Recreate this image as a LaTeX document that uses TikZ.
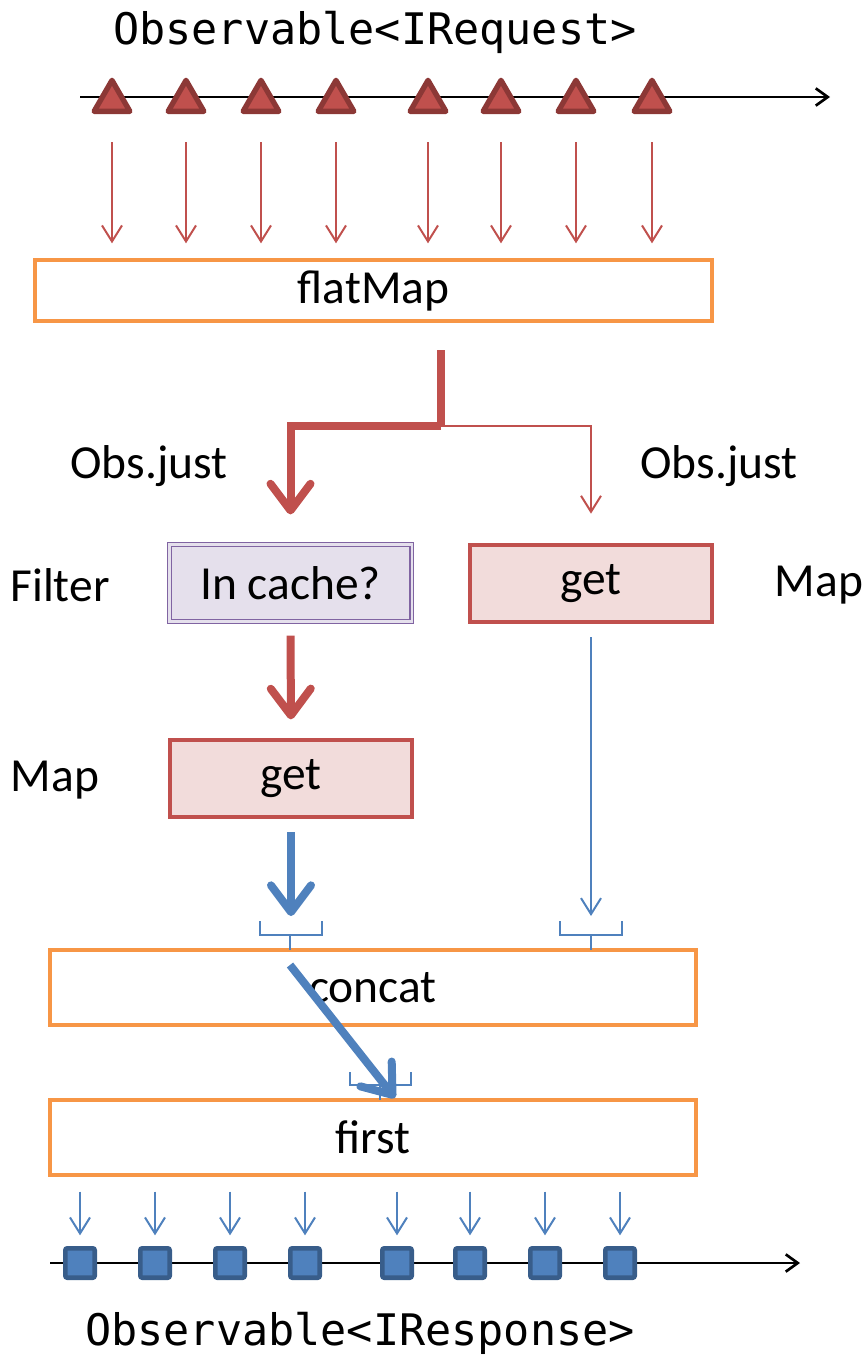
\documentclass[tikz,border=0pt]{standalone}
\usepackage{fontspec}
\setmainfont{Carlito}
\setmonofont{DejaVu Sans Mono}
\usetikzlibrary{arrows.meta,shapes.geometric}
\definecolor{accred}{HTML}{C0504D}
\definecolor{darkred}{HTML}{8C3836}
\definecolor{accorange}{HTML}{F79646}
\definecolor{accblue}{HTML}{4F81BD}
\definecolor{darkblue}{HTML}{385D8A}
\definecolor{accpurple}{HTML}{8064A2}
\definecolor{lavender}{HTML}{E5E0EC}
\definecolor{pinkfill}{HTML}{F2DCDB}

\begin{document}
\begin{tikzpicture}[
        x=0.75pt, y=-0.75pt,
        txt/.style={font=\fontsize{35.6}{40}\selectfont, inner sep=0pt},
        streamtitle/.style={font=\ttfamily\fontsize{32.6}{38}\selectfont, inner sep=0pt},
        timeline/.style={line width=2pt, -{Straight Barb[length=9pt, width=13pt]}},
        request/.style={regular polygon, regular polygon sides=3, fill=accred, draw=darkred, line width=4pt, line join=round, minimum size=31pt, inner sep=0pt},
        response/.style={rectangle, fill=accblue, draw=darkblue, line width=3.5pt, rounded corners=1.5pt, minimum size=22pt, inner sep=0pt},
        opbox/.style={txt, draw=accorange, line width=3pt, minimum width=484.5pt, minimum height=56.25pt},
        mapbox/.style={txt, draw=accred, fill=pinkfill, line width=3pt, minimum width=181.5pt, minimum height=57.75pt},
        filterbox/.style={txt, draw=accpurple, fill=lavender, line width=0.8pt, double=lavender, double distance=2pt, minimum width=182pt, minimum height=58pt},
        redthin/.style={draw=accred, line width=1.5pt, -{Straight Barb[length=12pt, width=15pt]}},
        redthick/.style={draw=accred, line width=6pt, -{Straight Barb[round, length=20pt, width=30pt]}},
        bluethin/.style={draw=accblue, line width=1.5pt, -{Straight Barb[length=12pt, width=15pt]}},
        bluethick/.style={draw=accblue, line width=6pt, -{Straight Barb[round, length=20pt, width=30pt]}},
        slot/.style={draw=accblue, line width=1.5pt}
    ]
        \useasboundingbox (0,0) rectangle (867,1356);

        % Request stream
        \node[streamtitle] (reqtitle) at (375,32) {Observable<IRequest>};
        \coordinate (reqstart) at (80,97);
        \coordinate (reqend) at (830,97);
        \draw[timeline] (reqstart) -- (reqend);
        \foreach \i/\x in {1/112, 2/186, 3/261, 4/336, 5/428, 6/501, 7/576, 8/652}
            \node[request] (t\i) at (\x,101) {};

        % flatMap
        \node[opbox, minimum width=507.75pt, minimum height=45.75pt] (flatmap) at (373.5,290.5) {flatMap};
        \foreach \i in {1,...,8}
            \draw[redthin, shorten <=21pt, shorten >=11pt] (t\i.south) -- (t\i.south |- flatmap.north);

        % Branches
        \node[txt] (obsleft) at (149,466) {Obs.just};
        \node[txt] (obsright) at (719,466) {Obs.just};
        \node[txt] (filterlbl) at (60,585) {Filter};
        \node[filterbox] (incache) at (290.5,583) {In cache?};
        \node[mapbox] (getright) at (591,583.5) {get};
        \node[txt] (mapright) at (819,585) {Map};
        \node[txt] (mapleft) at (55,780) {Map};
        \node[mapbox] (getleft) at (291,778.5) {get};

        \coordinate (fmout) at (441,350);
        \coordinate (split) at (441,426);
        \draw[redthick, -, line cap=butt] (fmout) -- (split);
        \draw[redthick, line join=miter] (split) -| ([yshift=22pt]incache.north);
        \draw[redthin, line join=miter] (split) -| ([yshift=22pt]getright.north);
        \draw[redthick, shorten <=10pt, shorten >=14pt] (incache.south) -- (getleft.north);

        % concat
        \node[opbox] (concat) at (373,987.5) {concat};
        \draw[bluethick, shorten <=10pt, shorten >=24pt] (getleft.south) -- (getleft.south |- concat.north);
        \draw[bluethin, shorten <=10pt, shorten >=24pt] (getright.south) -- (getright.south |- concat.north);
        \draw[slot] (260,921) -- (260,935) -- (322,935) -- (322,921) (290,935) -- (290,950);
        \draw[slot] (560,921) -- (560,935) -- (622,935) -- (622,921) (591,935) -- (591,950);

        % first
        \node[opbox] (first) at (373,1137.5) {first};
        \draw[slot] (350,1072) -- (350,1085) -- (411,1085) -- (411,1072) (380,1085) -- (380,1100);
        \coordinate (cin) at (290,965);
        \coordinate (fin) at (395,1098);
        \draw[bluethick] (cin) -- (fin);

        % Response stream
        \coordinate (resstart) at (50,1263);
        \coordinate (resend) at (800,1263);
        \draw[timeline] (resstart) -- (resend);
        \foreach \i/\x in {1/80, 2/155, 3/230, 4/305, 5/397, 6/470, 7/545, 8/620} {
            \node[response] (s\i) at (\x,1263) {};
            \draw[bluethin, shorten <=11pt, shorten >=8pt] (s\i |- first.south) -- (s\i.north);
        }
        \node[streamtitle] (restitle) at (360,1333) {Observable<IResponse>};

    \end{tikzpicture}
\end{document}
